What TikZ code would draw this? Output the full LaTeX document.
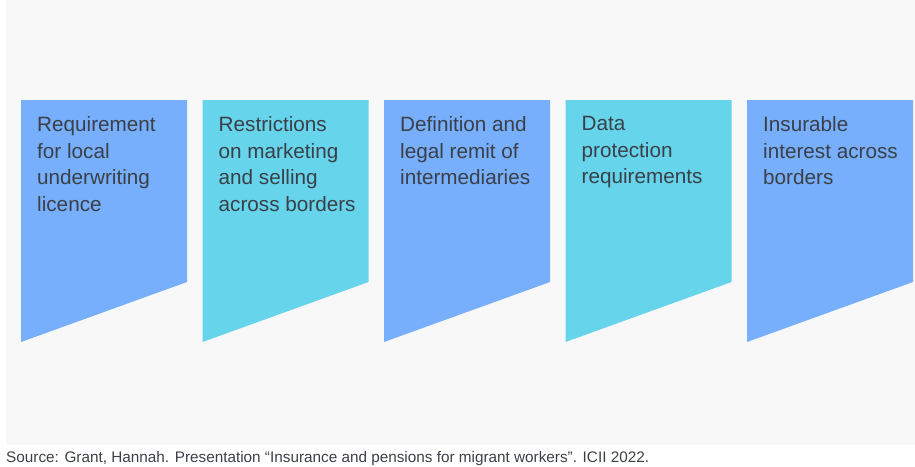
\documentclass[tikz,border=0pt]{standalone}
\usepackage{fontspec}
\setmainfont{Liberation Sans}
\definecolor{cpanel}{HTML}{F8F8F8}
\definecolor{cblue}{HTML}{77AFFC}
\definecolor{ccyan}{HTML}{66D4EA}
\definecolor{ctext}{HTML}{3B3F48}
\tikzset{hurdles/.style={x=1pt,y=-1pt},
  cardtext/.style={anchor=north west,align=left,inner sep=0pt,text=ctext,
    font=\fontsize{20.7}{26.5}\selectfont,execute at begin node=\strut}}

\begin{document}
\begin{tikzpicture}[hurdles]
    \useasboundingbox (0,0) rectangle (915,466);
    \def\w{166}% card width; pitch 181.5
    \fill[cpanel] (6,0) rectangle (915,445);
    \foreach \i/\col/\txt in {0/cblue/{Requirement\\for local\\underwriting\\licence},
        1/ccyan/{Restrictions\\on marketing\\and selling\\across borders},
        2/cblue/{Definition and\\legal remit of\\intermediaries},
        3/ccyan/{Data\\protection\\requirements},
        4/cblue/{Insurable\\interest across\\borders}} {
      \pgfmathsetmacro{\x}{21+181.5*\i}
      \fill[\col] (\x,100) -- ({\x+\w},100) -- ({\x+\w},282) -- (\x,342) -- cycle;
      \node[cardtext] (card\i) at ({\x+16},116.5) {\txt};
    }
    \node[anchor=base west,inner sep=0pt,text=ctext,font=\fontsize{15.3}{17}\selectfont] (source) at (6,462)
      {Source: Grant, Hannah. Presentation “Insurance and pensions for migrant workers”. ICII 2022.};
  \end{tikzpicture}
\end{document}
